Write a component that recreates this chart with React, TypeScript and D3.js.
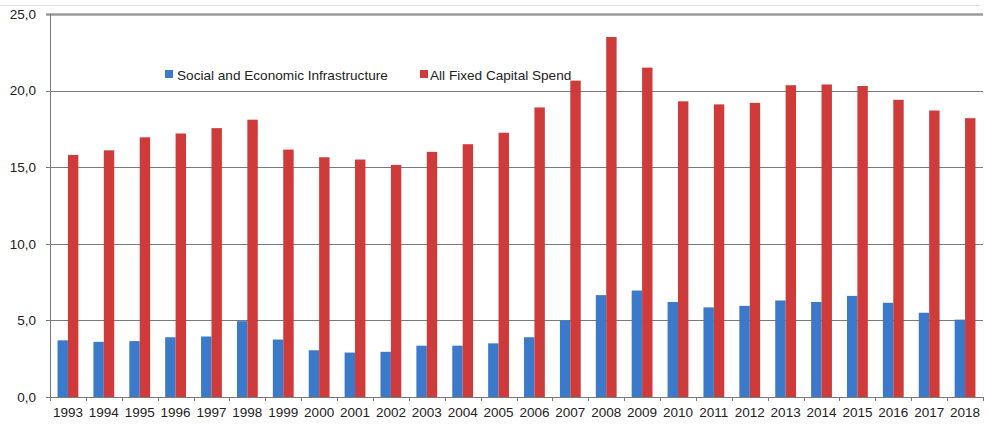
import React from "react";
import * as d3 from "d3";

const years = [
  "1993", "1994", "1995", "1996", "1997", "1998", "1999", "2000", "2001",
  "2002", "2003", "2004", "2005", "2006", "2007", "2008", "2009", "2010",
  "2011", "2012", "2013", "2014", "2015", "2016", "2017", "2018",
];
const socialInfra = [
  3.7, 3.6, 3.65, 3.9, 3.95, 4.95, 3.75, 3.05, 2.9, 2.95, 3.35, 3.35, 3.5,
  3.9, 5.0, 6.65, 6.95, 6.2, 5.85, 5.95, 6.3, 6.2, 6.6, 6.15, 5.5, 5.05,
];
const allFixed = [
  15.8, 16.1, 16.95, 17.2, 17.55, 18.1, 16.15, 15.65, 15.5, 15.15, 16.0,
  16.5, 17.25, 18.9, 20.65, 23.5, 21.5, 19.3, 19.1, 19.2, 20.35, 20.4,
  20.3, 19.4, 18.7, 18.2,
];
const yTicks = [0, 5, 10, 15, 20, 25];
const seriesNames = ["Social and Economic Infrastructure", "All Fixed Capital Spend"];

const W = 988;
const H = 430;
const margin = { top: 14, right: 5, bottom: 33, left: 50 };
const BLUE = "#3b79cb";
const RED = "#cf3a3a";
const FONT = "'Liberation Sans', Arial, sans-serif";

const App: React.FC = () => {
  const x = d3
    .scaleBand<string>()
    .domain(years)
    .range([margin.left, W - margin.right])
    .paddingInner(0)
    .paddingOuter(0);
  const y = d3
    .scaleLinear()
    .domain([0, 25])
    .range([H - margin.bottom, margin.top]);

  const bw = x.bandwidth() * 0.29;
  const fmt = (v: number) => v.toFixed(1).replace(".", ",");

  return (
    <svg
      width={W}
      height={H}
      style={{ position: "absolute", left: 0, top: 0, background: "#fff" }}
    >
      <line x1={0} x2={980} y1={5.5} y2={5.5} stroke="#dedede" />
      {/* gridlines */}
      {yTicks.map((t) => (
        <g key={t}>
          <line
            x1={margin.left - 4}
            x2={W - margin.right}
            y1={Math.round(y(t)) + 0.5}
            y2={Math.round(y(t)) + 0.5}
            stroke={t === 25 ? "#9a9a9a" : "#7a7a7a"}
            strokeWidth={t === 25 ? 2.5 : 1}
          />
          <text
            x={36}
            y={y(t)}
            dy="0.35em"
            textAnchor="end"
            fontFamily={FONT}
            fontSize={13.5}
            fill="#222"
          >
            {fmt(t)}
          </text>
        </g>
      ))}
      {/* bars */}
      {years.map((yr, i) => {
        const cx = (x(yr) as number) + x.bandwidth() / 2;
        return (
          <g key={yr}>
            <rect
              x={cx - bw}
              y={y(socialInfra[i])}
              width={bw}
              height={y(0) - y(socialInfra[i])}
              fill={BLUE}
            />
            <rect
              x={cx}
              y={y(allFixed[i])}
              width={bw}
              height={y(0) - y(allFixed[i])}
              fill={RED}
            />
            <text
              x={cx}
              y={H - 13}
              textAnchor="middle"
              fontFamily={FONT}
              fontSize={13.5}
              fill="#222"
            >
              {yr}
            </text>
          </g>
        );
      })}
      {/* axes */}
      <line
        x1={margin.left + 0.5}
        x2={margin.left + 0.5}
        y1={margin.top}
        y2={y(0)}
        stroke="#7a7a7a"
      />
      {years.concat(["end"]).map((yr, i) => {
        const xx = Math.round(margin.left + i * x.step()) + 0.5;
        return (
          <line
            key={"t" + i}
            x1={xx}
            x2={xx}
            y1={y(0)}
            y2={y(0) + 4}
            stroke="#7a7a7a"
          />
        );
      })}
      {/* legend */}
      <rect x={165} y={70} width={8} height={8} fill={BLUE} />
      <text x={177} y={79.5} fontFamily={FONT} fontSize={13.6} fill="#222">
        {seriesNames[0]}
      </text>
      <rect x={420} y={70} width={8} height={8} fill={RED} />
      <text x={430} y={79.5} fontFamily={FONT} fontSize={13.6} fill="#222">
        {seriesNames[1]}
      </text>
    </svg>
  );
};

export default App;
